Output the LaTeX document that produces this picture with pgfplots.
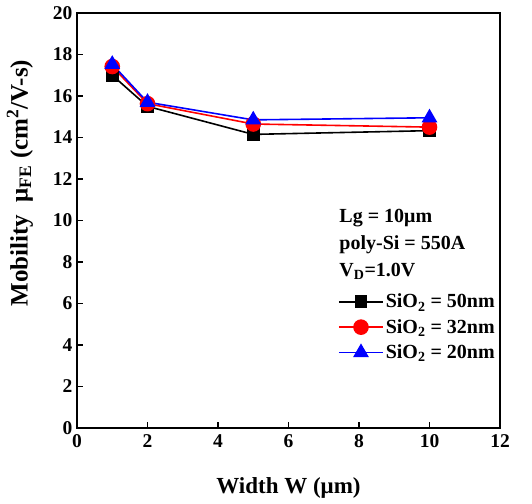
\documentclass[border=0pt]{standalone}
\usepackage{fontspec}
\setmainfont{Liberation Serif}
\usepackage{pgfplots}
\pgfplotsset{compat=1.18}

\begin{document}
\begin{tikzpicture}
\begin{axis}[
  name=ax,
  scale only axis,
  width=423pt, height=415pt,
  xmin=0, xmax=12, ymin=0, ymax=20,
  xtick={0,2,...,12}, ytick={0,2,...,20},
  tick align=inside, xtick pos=bottom, ytick pos=left,
  major tick length=6pt,
  axis line style={line width=1.6pt},
  tick style={line width=1.4pt, black},
  /pgf/number format/assume math mode=true,
  ticklabel style={font=\fontsize{19.5}{19.5}\selectfont\bfseries},
  xticklabel style={yshift=-3pt},
  yticklabel style={xshift=-1pt},
  label style={font=\fontsize{23}{23}\selectfont\bfseries},
  xlabel={Width W (μm)},
  ylabel={Mobility\ \ \fontsize{25}{25}\selectfont μ\textsubscript{FE} (cm\textsuperscript{2}/V-s)},
  xlabel style={at={(rel axis cs:0.5,-0.145)}, anchor=center},
  ylabel style={at={(rel axis cs:-0.135,0.59)}, anchor=center, font=\fontsize{25}{25}\selectfont\bfseries},
  legend style={draw=none, fill=none, at={(rel axis cs:0.617,0.328)}, anchor=north west,
    font=\fontsize{20}{20}\selectfont\bfseries, row sep=6pt, inner sep=0pt,
    /tikz/every even column/.append style={column sep=2pt}},
  legend cell align=left,
  legend image code/.code={
    \draw[mark repeat=2, mark phase=2, #1] plot coordinates {(0pt,0pt) (22pt,0pt) (44pt,0pt)};
  },
]
\addplot[black, line width=1.6pt, mark=square*, mark size=5.5pt] coordinates {
  (1,17.0) (2,15.5) (5,14.15) (10,14.33)};
\addlegendentry{SiO\textsubscript{2} = 50nm}
\addplot[red, line width=1.6pt, mark=*, mark size=7pt] coordinates {
  (1,17.42) (2,15.63) (5,14.65) (10,14.5)};
\addlegendentry{SiO\textsubscript{2} = 32nm}
\addplot[blue, line width=1.6pt, mark=triangle*, mark size=7.5pt] coordinates {
  (1,17.53) (2,15.7) (5,14.85) (10,14.95)};
\addlegendentry{SiO\textsubscript{2} = 20nm}
\node[anchor=north west, align=left, inner sep=0pt,
  font=\fontsize{20}{27}\selectfont\bfseries] at (axis cs:7.44,10.55)
  {Lg = 10μm\\poly-Si = 550A\\V\textsubscript{D}=1.0V};
\end{axis}
\useasboundingbox ([shift={(-77pt,-75pt)}]ax.south west) rectangle ([shift={(455pt,428pt)}]ax.south west);
\end{tikzpicture}
\end{document}
